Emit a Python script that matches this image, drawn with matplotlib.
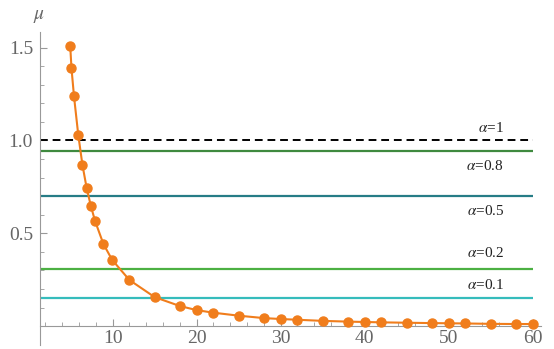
import matplotlib.pyplot as plt
import numpy as np
from matplotlib.ticker import MultipleLocator, FixedLocator

# data
n = [4.95, 5.1, 5.4, 5.9, 6.4, 6.9, 7.4, 7.9, 8.9, 9.95, 12, 15, 18, 20, 22, 25,
     28, 30, 32, 35, 38, 40, 42, 45, 48, 50, 52, 55, 58, 60]
mu = [1.507, 1.388, 1.237, 1.032, 0.869, 0.745, 0.648, 0.567, 0.442, 0.356, 0.248,
      0.156, 0.108, 0.086, 0.072, 0.056, 0.043, 0.038, 0.034, 0.028, 0.024, 0.022,
      0.020, 0.018, 0.016, 0.015, 0.014, 0.012, 0.011, 0.011]

alpha_labels = ["α=1", "α=0.8", "α=0.5", "α=0.2", "α=0.1"]
alpha_levels = [1.0, 0.944, 0.702, 0.305, 0.152]
label_y = [1.067, 0.862, 0.62, 0.393, 0.221]
line_colors = ["black", "#3f8a3f", "#267c86", "#4cb043", "#35bcbc"]

plt.rcParams['font.family'] = 'serif'
plt.rcParams['font.serif'] = ['Liberation Serif', 'DejaVu Serif']
plt.rcParams['mathtext.fontset'] = 'stix'

fig = plt.figure(figsize=(5.54, 3.49), dpi=100)
ax = fig.add_axes([40 / 554, 4 / 349, 501 / 554, 313.3 / 349])

xmin, xmax = 1.35, 61
ax.set_xlim(xmin, xmax)
ax.set_ylim(-0.102, 1.586)

for lvl, c, lab, ly in zip(alpha_levels, line_colors, alpha_labels, label_y):
    if c == "black":
        ax.hlines(lvl, xmin, 60.1, colors=c, linestyles=(0, (4, 2.5)), linewidth=1.4)
    else:
        ax.hlines(lvl, xmin, 60.1, colors=c, linewidth=1.6)
    ax.text(56.6, ly, "$\\alpha$=" + lab.split("=")[1], ha='right', va='center',
            fontsize=11, color='#222222')

ax.plot(n, mu, '-o', color='#f07d1c', markersize=6.5, linewidth=1.5, zorder=5)

# Mathematica-style axes
for s in ['top', 'right']:
    ax.spines[s].set_visible(False)
ax.spines['bottom'].set_position(('data', 0))
ax.spines['left'].set_color('#999999')
ax.spines['bottom'].set_color('#999999')

ax.xaxis.set_major_locator(FixedLocator([10, 20, 30, 40, 50, 60]))
ax.xaxis.set_minor_locator(MultipleLocator(2))
ax.yaxis.set_major_locator(FixedLocator([0.5, 1.0, 1.5]))
ax.yaxis.set_minor_locator(FixedLocator(np.arange(0.1, 1.6, 0.1)))
ax.set_yticklabels(["0.5", "1.0", "1.5"])
ax.tick_params(which='both', direction='in', color='#999999', labelcolor='#666666',
               labelsize=14)
ax.tick_params(which='major', length=5)
ax.tick_params(which='minor', length=3)
ax.tick_params(axis='x', pad=3)
ax.tick_params(axis='y', pad=5)

ax.text(-0.001, 1.02, "$\\mu$", transform=ax.transAxes, ha='center', va='bottom',
        fontsize=14, color='#666666')

fig.savefig("out.png", dpi=100)
